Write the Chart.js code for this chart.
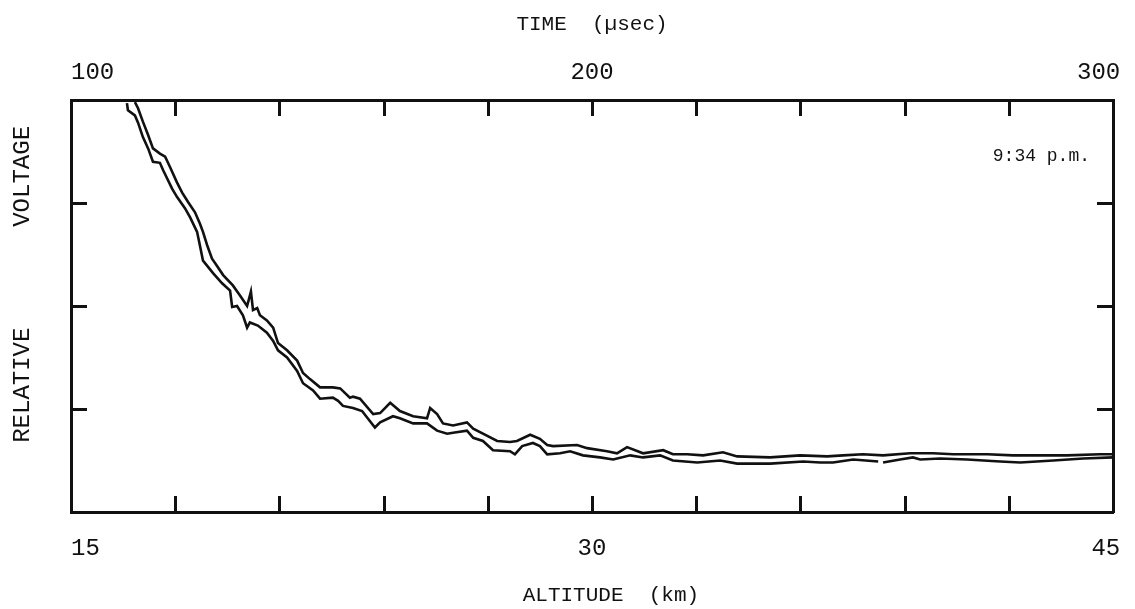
<!DOCTYPE html>
<html>
<head>
<meta charset="utf-8">
<title>Relative voltage vs altitude</title>
<script src="https://cdn.jsdelivr.net/npm/chart.js@4.4.1/dist/chart.umd.min.js"></script>
<style>
  html, body { margin: 0; padding: 0; background: #fff; }
  #chart { display: block; }
</style>
</head>
<body>
<canvas id="chart" width="1135" height="609"></canvas>
<script>
// Bottom axis: altitude (km); top axis: time (µsec)
const altitudeLabels = [15, 30, 45];
const timeLabels = [100, 200, 300];
const stampText = '9:34 p.m.';

// Upper trace
const upperAltitude = [
  16.84, 16.93, 17.07, 17.22, 17.36, 17.56, 17.71, 17.85, 18.05, 18.20,
  18.37, 18.57, 18.71, 18.80, 18.92, 19.06, 19.20, 19.38, 19.66, 19.87,
  20.07, 20.18, 20.24, 20.36, 20.44, 20.64, 20.82, 20.96, 21.22, 21.51,
  21.68, 21.88, 22.17, 22.54, 22.75, 23.03, 23.12, 23.32, 23.70, 23.90,
  24.19, 24.47, 24.85, 25.25, 25.34, 25.54, 25.71, 26.00, 26.40, 26.58,
  26.86, 27.27, 27.64, 27.84, 28.22, 28.50, 28.71, 28.88, 29.57, 29.86,
  30.43, 30.72, 31.01, 31.47, 32.05, 32.33, 32.74, 33.20, 33.77, 34.18,
  35.13, 35.99, 36.77, 37.23, 37.80, 38.38, 39.16, 39.82, 40.40, 41.38,
  42.12, 42.90, 43.68, 44.63, 45.00
];
const upperVoltage = [
  3.98, 3.92, 3.79, 3.66, 3.53, 3.48, 3.45, 3.35, 3.20, 3.10,
  3.01, 2.91, 2.80, 2.72, 2.59, 2.46, 2.39, 2.30, 2.20, 2.10,
  2.00, 2.14, 1.96, 1.98, 1.91, 1.86, 1.79, 1.64, 1.57, 1.47,
  1.35, 1.29, 1.21, 1.21, 1.20, 1.11, 1.12, 1.10, 0.95, 0.96,
  1.06, 0.98, 0.93, 0.91, 1.01, 0.95, 0.86, 0.84, 0.87, 0.81,
  0.76, 0.69, 0.68, 0.69, 0.75, 0.71, 0.65, 0.64, 0.65, 0.62,
  0.59, 0.57, 0.63, 0.57, 0.60, 0.56, 0.56, 0.55, 0.58, 0.54,
  0.53, 0.55, 0.54, 0.55, 0.56, 0.55, 0.57, 0.57, 0.56, 0.56,
  0.55, 0.55, 0.55, 0.56, 0.56
];

// Lower trace (null marks the short break in the pen line)
const lowerAltitude = [
  16.61, 16.64, 16.84, 16.93, 17.07, 17.22, 17.36, 17.56, 17.65, 17.91,
  18.05, 18.28, 18.43, 18.63, 18.71, 18.80, 19.09, 19.35, 19.58, 19.64,
  19.78, 19.95, 20.07, 20.15, 20.38, 20.64, 20.82, 20.96, 21.22, 21.51,
  21.68, 21.97, 22.17, 22.54, 22.69, 22.83, 23.12, 23.38, 23.75, 23.90,
  24.27, 24.47, 24.85, 25.25, 25.54, 25.83, 26.00, 26.40, 26.58, 26.86,
  27.15, 27.64, 27.78, 27.99, 28.30, 28.50, 28.71, 29.08, 29.37, 29.74,
  30.23, 30.61, 31.10, 31.47, 31.96, 32.33, 33.03, 33.69, 34.18, 35.13,
  36.08, 36.57, 36.94, 37.52, 38.24, 38.31, 38.38, 38.87, 39.24, 39.45,
  40.02, 40.80, 41.75, 42.33, 43.28, 44.14, 45.00
];
const lowerVoltage = [
  3.97, 3.90, 3.85, 3.78, 3.64, 3.53, 3.40, 3.39, 3.32, 3.14,
  3.06, 2.95, 2.86, 2.72, 2.59, 2.44, 2.32, 2.22, 2.15, 1.99,
  2.00, 1.91, 1.79, 1.84, 1.81, 1.74, 1.66, 1.57, 1.50, 1.37,
  1.25, 1.18, 1.10, 1.11, 1.08, 1.03, 1.01, 0.98, 0.82, 0.87,
  0.93, 0.91, 0.86, 0.86, 0.79, 0.76, 0.77, 0.79, 0.72, 0.69,
  0.60, 0.59, 0.56, 0.64, 0.67, 0.64, 0.56, 0.57, 0.59, 0.55,
  0.53, 0.51, 0.55, 0.53, 0.55, 0.50, 0.48, 0.50, 0.47, 0.47,
  0.49, 0.48, 0.48, 0.51, 0.49, null, 0.48, 0.51, 0.53, 0.51,
  0.52, 0.51, 0.49, 0.48, 0.50, 0.52, 0.53
];

const ink = '#111111';
const mono = '"Liberation Mono", "DejaVu Sans Mono", monospace';

function toPoints(xs, ys) {
  return xs.map((x, i) => ({ x: x, y: ys[i] }));
}

// End labels on each horizontal axis are nudged toward the inside of the frame
function edgeLabel(value, list, lead, trail) {
  if (!list.includes(value)) return '';
  if (value === list[0]) return lead + String(value);
  if (value === list[list.length - 1]) return String(value) + trail;
  return String(value);
}

// Short tick marks pointing into the plot frame on all four sides
const inwardTicks = {
  id: 'inwardTicks',
  afterDatasetsDraw(chart) {
    const { ctx, chartArea: a, scales } = chart;
    const len = 16;
    ctx.save();
    ctx.strokeStyle = ink;
    ctx.lineWidth = 3;
    ['x', 'x2', 'y', 'y2'].forEach(id => {
      const s = scales[id];
      s.ticks.forEach(t => {
        if (t.value <= s.min || t.value >= s.max) return;
        const p = Math.round(s.getPixelForValue(t.value)) + 0.5;
        ctx.beginPath();
        if (s.position === 'bottom') { ctx.moveTo(p, a.bottom); ctx.lineTo(p, a.bottom - len); }
        else if (s.position === 'top') { ctx.moveTo(p, a.top); ctx.lineTo(p, a.top + len); }
        else if (s.position === 'left') { ctx.moveTo(a.left, p); ctx.lineTo(a.left + len, p); }
        else { ctx.moveTo(a.right, p); ctx.lineTo(a.right - len, p); }
        ctx.stroke();
      });
    });
    ctx.restore();
  }
};

// Time stamp written in the upper right of the frame
const stamp = {
  id: 'stamp',
  afterDatasetsDraw(chart) {
    const { ctx, chartArea: a } = chart;
    ctx.save();
    ctx.fillStyle = ink;
    ctx.font = '18px ' + mono;
    ctx.textAlign = 'right';
    ctx.textBaseline = 'middle';
    ctx.fillText(stampText, a.right - 23, a.top + 56);
    ctx.restore();
  }
};

// Pin each axis box to a fixed size so the frame spans the page as drawn
function fixHeight(h) {
  return scale => { scale.height = h; scale.paddingLeft = 0; scale.paddingRight = 0; };
}
function fixWidth(w) {
  return scale => { scale.width = w; scale.paddingTop = 0; scale.paddingBottom = 0; };
}

const traceStyle = {
  borderColor: ink,
  borderWidth: 2.6,
  pointRadius: 0,
  tension: 0,
  spanGaps: false,
  fill: false,
  xAxisID: 'x',
  yAxisID: 'y'
};

new Chart(document.getElementById('chart'), {
  type: 'line',
  data: {
    datasets: [
      Object.assign({ label: 'upper', data: toPoints(upperAltitude, upperVoltage) }, traceStyle),
      Object.assign({ label: 'lower', data: toPoints(lowerAltitude, lowerVoltage) }, traceStyle)
    ]
  },
  plugins: [inwardTicks, stamp],
  options: {
    responsive: false,
    animation: false,
    events: [],
    layout: { padding: 0 },
    plugins: { legend: { display: false }, tooltip: { enabled: false } },
    scales: {
      x: {
        type: 'linear', position: 'bottom', min: 15, max: 45,
        afterFit: fixHeight(97),
        grid: { display: false, drawTicks: false },
        border: { display: true, color: ink, width: 3 },
        ticks: {
          stepSize: 3, autoSkip: false, maxRotation: 0, padding: 22,
          color: ink, font: { family: mono, size: 24 },
          callback: v => edgeLabel(v, altitudeLabels, '  ', ' ')
        },
        title: {
          display: true, text: '   ALTITUDE  (km)', color: ink,
          font: { family: mono, size: 21 }, padding: { top: 0, bottom: 1 }
        }
      },
      x2: {
        type: 'linear', position: 'top', min: 100, max: 300,
        afterFit: fixHeight(100),
        grid: { display: false, drawTicks: false },
        border: { display: true, color: ink, width: 3 },
        ticks: {
          stepSize: 20, autoSkip: false, maxRotation: 0, padding: 13,
          color: ink, font: { family: mono, size: 24 },
          callback: v => edgeLabel(v, timeLabels, '   ', '  ')
        },
        title: {
          display: true, text: 'TIME  (µsec)', color: ink,
          font: { family: mono, size: 21 }, padding: { top: 12, bottom: 0 }
        }
      },
      y: {
        type: 'linear', position: 'left', min: 0, max: 4,
        afterFit: fixWidth(71),
        grid: { display: false, drawTicks: false },
        border: { display: true, color: ink, width: 3 },
        ticks: { stepSize: 1, display: false },
        title: {
          display: true, text: '   RELATIVE       VOLTAGE', color: ink,
          font: { family: mono, size: 24 }, padding: { top: 8, bottom: 0 }
        }
      },
      y2: {
        type: 'linear', position: 'right', min: 0, max: 4,
        afterFit: fixWidth(22),
        grid: { display: false, drawTicks: false },
        border: { display: true, color: ink, width: 3 },
        ticks: { stepSize: 1, display: false }
      }
    }
  }
});
</script>
</body>
</html>
